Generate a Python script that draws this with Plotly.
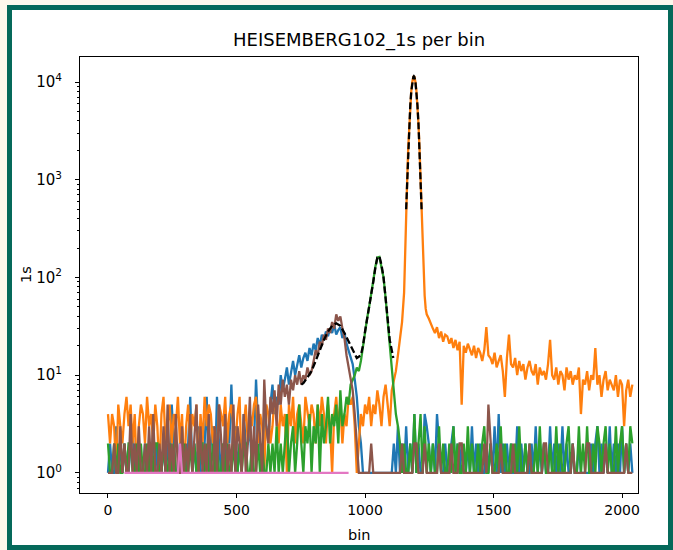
import plotly.graph_objects as go

# ---------------- data ----------------
title_text = "HEISEMBERG102_1s per bin"
x_label = "bin"
y_label = "1s"
x_ticks = [0, 500, 1000, 1500, 2000]
y_ticks = [1, 10, 100, 1000, 10000]
y_tick_text = ["10<sup>0</sup>", "10<sup>1</sup>", "10<sup>2</sup>", "10<sup>3</sup>", "10<sup>4</sup>"]

# each series = list of segments (first bin, bin step, counts)
blue_segments = [
    (0, 8, [1,2,1,1,3,1,2,1,2,1,1,2,3,1,1,2,1,1,2,1,
            2,1,3,1,2,1,1,2,1,2,1,5,2,1,1,2,3,1,1,2,
            6,1,2,1,3,1,1,2,6,1,2,3,1,6,2,1,2,1,3,2,
            8,2,3,1,2,1,4,2,2,3,1,2,9,3,2,1,4,3,2,5]),
    (640, 8, [8,4,6,5,10,7,9,12,8,11,14,10,13,16,12,15]),
    (768, 8, [17,14,19,16,21,18,24,20,26,23,28,25,30,27,33,26,29,31,24,27,21,18,16]),
    (952, 8, [13,9,6,3,2,1,1,1,1,1,1,1,1,1,1,1,1,1,1,1]),
    (1112, 8, [2,1,3,1,2,1,3,1,2,1,4,1,2,1,1,4,3,2,1,2,
               1,4,2,1,1,2,1,1,2,3,1,2,1,2,1,1,2,1,3,1,
               2,1,2,1,1,2,1,2,1,3,1,4,1,2,1,2,1,2,1,1,
               3,1,2,1,2,1,1,2,1,3,1,2,1,2,1,1,3,1,2,1,
               2,1,3,1,2,1,1,2,1,1,2,1,1,1,1,1,2,1,2,3,
               1,2,1,2,1,3,1,2,1,2,1,3,1,2,1,2,1]),
]

orange_segments = [
    (0, 8, [4,2,4,3,1,5,3,2,4,6,3,5,2,4,1,3,5,4,2,6,
            3,4,2,5,3,1,4,6,2,3,5,2,4,3,6,2,4,1,3,5,
            2,4,3,5,1,4,2,6,3,5,4,2,3,1,5,4,3,6,2,4,
            5,3,2,4,6,1,3,5,2,4,3,5,6,2,4,3,1,5,4,2,
            3,6,4,2,5,3,4,1,5,3,6,2,4,5,3,2,6,4,3,5,
            4,2,5,3,6,4,2,5,3,1,4,6,3,5,2,4,3,6,5]),
    (952, 8, [6,3,1,2,4,3,5,4,6,3,5,4,7,5,3,6,8,5,3,7]),
    (1112, 8, [9,11,16,24,35,70]),
    (1156, 4, [200,500,1000,2100,3700,5800,8100,10100,11300,11300,10100,8100,
               5800,3700,2100,1000,500,230,110,65,48,42]),
    (1248, 8, [38,33,30,27,31,24,28,22,26,25,
               21,24,19,23,18,22,5,20,17,21,
               18,16,20,15,19,17,14,18,31,16,
               15,13,17,12,14,16,11,6,15,26,
               13,12,15,10,14,11,13,9,12,14,
               11,10,13,8,12,10,11,9,13,23,
               10,9,12,8,11,10,7,12,9,11,
               8,10,9,12,4,9,8,11,7,10,
               9,19,8,10,6,9,11,7,9,8,
               7,10,6,9,8,3,7,9,6,8]),
]

green_segments = [
    (0, 8, [2,1,1,2,1,2,1,1,2,1,2,2,1,1,2,1,2,1,1,2,
            1,2,1,2,2,1,1,2,1,1,2,1,2,1,1,2,1,2,1,1,
            2,1,2,1,1,2,2,1,2,1,1,2,1,2,1,1,2,1,2,1,
            1,2,1,1,2,1,2,2,1,1,2,1,1,2,1,2,1,1,2,1,
            2,1,3,1,2,1,2,4,1,2,3,1,2,5,2,1,3,2,4,1,
            3,2,5,1,4,2,3,6,2,4,3,5,2,7,3,4,6,5,8]),
    (952, 8, [9,10,12,11,14,20,28,38,50,66,92,128,160,162,130,100,62,36,22,12,
              7,4,3,2,1,2,1]),
    (1168, 8, [1,2,1,4,1,2,4,1,3,1,2,1,2,1,1,3,1,2,1,1,
               2,1,3,1,2,1,1,2,1,3,1,2,1,1,2,1,2,3,1,1,
               2,1,1,2,1,3,1,2,1,1,2,1,2,1,3,1,1,2,1,2,
               1,1,2,1,3,1,2,1,1,2,1,1,3,1,2,1,1,2,3,1,
               2,1,1,3,1,2,1,3,1,1,2,1,3,2,1,2,3,1,2,1,
               1,3,1,2,3,1,2,1,3,2]),
]

brown_segments = [
    (0, 8, [1,1,1,2,1,1,3,1,2,1,1,4,1,2,1,3,1,1,2,1,
            3,1,4,1,1,2,1,3,1,5,1,2,1,4,1,1,3,1,2,1,
            4,1,2,5,1,3,1,2,1,4,1,1,3,1,5,2,1,4,1,2,
            1,5,1,3,2,1,4,1,2,6,1,3,1,5,2,1,9,3,2,6]),
    (640, 8, [4,7,3,8,5,9,6,8,5,9,7,10,8,11,8,10,9,12,10,11,
              14,18,16,22,20,26,23,30,27,35,30,42,36,40,30,24,16,12,9]),
    (952, 8, [7,4,2,1,1,1,1,1,1,2,1,1,1,1,1,1,1,1,1,1,
              1,1,1,1,2,1,1,1,1,1,2,2,1,1,1,2,1,1,1,1,
              1,1,2,1,1,1,1,1,2,1,1,1,2,2,1,1,1,1,1,1,
              1,1,1,1,2,1,5,2,1,1,1,1,2,1,1,1,1,1,2,1,
              1,1,1,1,1,1,2,1,1,1,1,1,1,2,2,1,1,1,1,1,
              1,1,1,1,1,1,1,2,1,1,1,1,1,1,2,2,1,1,1,1,
              1,1,1,2,1,1,1,1,1,1,1,1,1,2,1,1,1]),
]

pink_bins = [64, 272, 280, 288, 936]
pink_counts = [1, 1, 2, 1, 1]

fit_low_bins = [752,760,776,792,808,824,840,856,872,888,904,920,936,952,968,984,992,
                1000,1008,1016,1024,1032,1040,1048,1056,1064,1072,1080,1088,1096,1104,1110]
fit_low_counts = [8,8.3,9.5,11,14,18,23,28,32,34,32,27,22,18,15,16,20,
                  28,37,48,65,90,125,160,165,135,100,65,38,23,17,15]
fit_peak_bins = [1160,1164,1168,1172,1176,1180,1184,1188,1190,1192,1196,1200,1204,1208,1212,1216,1220]
fit_peak_counts = [500,1000,2100,3700,5800,8100,10100,11300,11500,11300,10100,8100,5800,3700,2100,1000,500]

series = [
    ("#1f77b4", blue_segments),
    ("#ff7f0e", orange_segments),
    ("#2ca02c", green_segments),
    ("#8c564b", brown_segments),
]


def expand(segments):
    xs, ys = [], []
    for start, step, vals in segments:
        for k, v in enumerate(vals):
            xs.append(start + step * k)
            ys.append(v)
    return xs, ys


# ---------------- layout geometry ----------------
W, H = 673, 550
L, R, T, B = 80, 638, 57, 493


def fx(p):
    return (p - L) / (R - L)


def fy(p):
    return (B - p) / (B - T)


fig = go.Figure()
for color, segs in series:
    xs, ys = expand(segs)
    fig.add_trace(go.Scatter(x=xs, y=ys, mode="lines",
                             line=dict(color=color, width=2.3), hoverinfo="skip"))
fig.add_trace(go.Scatter(x=pink_bins, y=pink_counts, mode="lines",
                         line=dict(color="#e377c2", width=2.3), hoverinfo="skip"))
for bx, by in [(fit_low_bins, fit_low_counts), (fit_peak_bins, fit_peak_counts)]:
    fig.add_trace(go.Scatter(x=bx, y=by, mode="lines",
                             line=dict(color="black", width=2.3, dash="7px,3px"),
                             hoverinfo="skip"))

font_family = "DejaVu Sans"
minor_vals = []
for dec in [0.1, 1, 10, 100, 1000]:
    for m in range(2, 10):
        minor_vals.append(m * dec)

fig.update_layout(
    width=W, height=H,
    margin=dict(l=L, r=W - R, t=T, b=H - B, pad=0),
    paper_bgcolor="#fdf8ec",
    plot_bgcolor="white",
    showlegend=False,
    font=dict(family=font_family, size=14, color="black"),
    xaxis=dict(
        range=[-108.9, 2062], tickmode="array", tickvals=x_ticks,
        ticks="outside", ticklen=4, tickwidth=1, tickcolor="black",
        showline=True, linecolor="black", linewidth=1, mirror=True,
        showgrid=False, zeroline=False, tickfont=dict(size=14),
    ),
    yaxis=dict(
        type="log", range=[-0.206, 4.257], tickmode="array",
        tickvals=y_ticks, ticktext=y_tick_text,
        ticks="outside", ticklen=4, tickwidth=1, tickcolor="black",
        showline=True, linecolor="black", linewidth=1, mirror=True,
        showgrid=False, zeroline=False, tickfont=dict(size=15),
        ticklabelstandoff=10,
        minor=dict(tickvals=minor_vals, ticks="outside", ticklen=2,
                   tickwidth=1, tickcolor="black", showgrid=False),
    ),
    shapes=[dict(type="rect", xref="paper", yref="paper",
                 x0=fx(9.5), x1=fx(670.5), y0=fy(547.5), y1=fy(7.5),
                 line=dict(color="#05695a", width=5), fillcolor="white",
                 layer="below")],
    annotations=[
        dict(text=title_text, xref="paper", yref="paper", x=0.5, y=fy(40),
             xanchor="center", yanchor="middle", showarrow=False,
             font=dict(size=18)),
        dict(text=x_label, xref="paper", yref="paper", x=0.5, y=fy(535),
             xanchor="center", yanchor="middle", showarrow=False,
             font=dict(size=14.5)),
        dict(text=y_label, xref="paper", yref="paper", x=fx(26), y=0.5,
             xanchor="center", yanchor="middle", showarrow=False,
             textangle=-90, font=dict(size=14.5)),
    ],
)

fig.write_html("out.html")
